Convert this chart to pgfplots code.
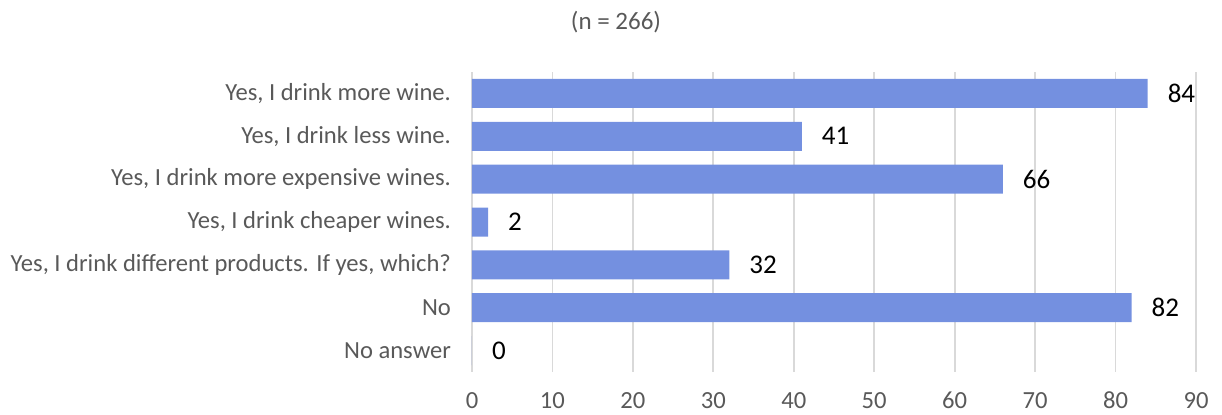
\documentclass[border=0pt]{standalone}
\usepackage{fontspec}
\setmainfont{Carlito}
\usepackage{pgfplots}
\pgfplotsset{compat=1.18}
\definecolor{barblue}{RGB}{116,144,224}
\definecolor{gridgrey}{RGB}{217,217,217}
\definecolor{textgrey}{RGB}{89,89,89}
\begin{document}
\begin{tikzpicture}
\begin{axis}[
    at={(0,0)}, anchor=south west,
    xbar,
    scale only axis,
    width=362pt, height=150pt,
    xmin=0, xmax=90,
    ymin=-0.5, ymax=6.5,
    y dir=reverse,
    xtick={0,10,...,90},
    ytick={0,...,6},
    yticklabels={{Yes, I drink more wine.},{Yes, I drink less wine.},{Yes, I drink more expensive wines.},{Yes, I drink cheaper wines.},{Yes, I drink different products. If yes, which?},No,No answer},
    major tick length=0pt,
    axis line style={draw=none},
    xmajorgrids,
    grid style={gridgrey, line width=0.9pt},
    /pgf/number format/assume math mode=true,
    tick label style={font=\fontsize{12.3}{14}\selectfont, text=textgrey},
    x tick label style={yshift=-6.5pt},
    y tick label style={xshift=-7pt},
    bar width=14.5pt,
    nodes near coords,
    nodes near coords style={font=\fontsize{13.5}{15}\selectfont, text=black, anchor=west, xshift=6.5pt},
]
\addplot[fill=barblue, draw=none] coordinates {
    (84,0) (41,1) (66,2) (2,3) (32,4) (82,5) (0,6)
};
\end{axis}
\node[font=\fontsize{12.5}{15}\selectfont, text=textgrey] at (72pt,175pt) {(n = 266)};
\pgfresetboundingbox
\useasboundingbox (-236pt,-21pt) rectangle (375pt,186pt);
\end{tikzpicture}
\end{document}
